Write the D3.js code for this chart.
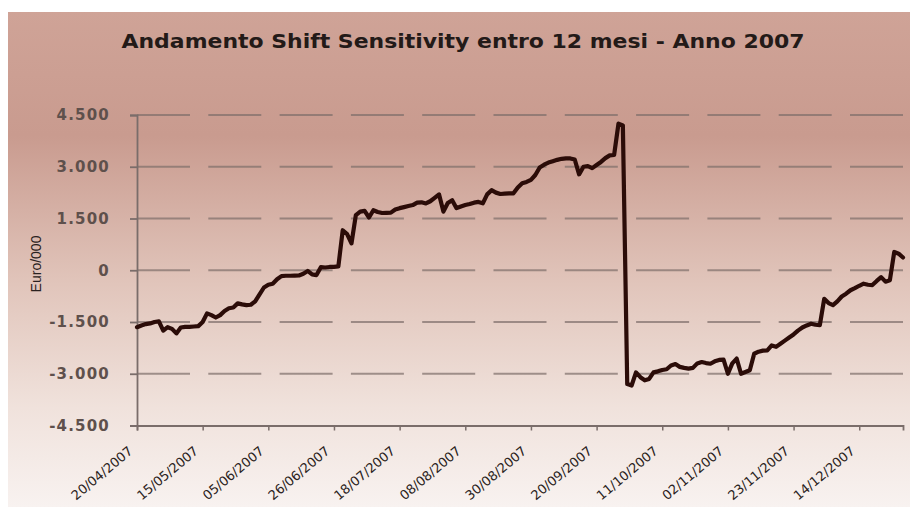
<!DOCTYPE html>
<html>
<head>
<meta charset="utf-8">
<script src="https://cdnjs.cloudflare.com/ajax/libs/d3/7.8.5/d3.min.js"></script>
<style>
  html, body { margin: 0; padding: 0; background: #ffffff; }
  svg { display: block; }
</style>
</head>
<body>
<svg id="chart" width="910" height="507"></svg>
<script>
// ---- Data ----
const title = "Andamento Shift Sensitivity entro 12 mesi - Anno 2007";
const yAxisTitle = "Euro/000";
const dateLabels = ["20/04/2007", "15/05/2007", "05/06/2007", "26/06/2007", "18/07/2007", "08/08/2007",
                    "30/08/2007", "20/09/2007", "11/10/2007", "02/11/2007", "23/11/2007", "14/12/2007"];
const labelEvery = 15; // one date label every 15 observations
const yTickValues = [-4500, -3000, -1500, 0, 1500, 3000, 4500];
const sensitivity = [
  -1650, -1600, -1560, -1540, -1500, -1480, -1750, -1650, -1700, -1830,
  -1660, -1640, -1640, -1630, -1620, -1500, -1250, -1300, -1370, -1300,
  -1180, -1100, -1080, -960, -990, -1010, -1000, -900, -700, -500,
  -420, -390, -260, -170, -160, -160, -155, -150, -100, -20,
  -120, -140, 90, 80, 95, 100, 110, 1160, 1050, 780,
  1600, 1700, 1720, 1530, 1740, 1690, 1660, 1665, 1670, 1760,
  1800, 1830, 1860, 1890, 1960, 1970, 1936, 2000, 2100, 2200,
  1700, 1950, 2030, 1800, 1850, 1890, 1920, 1960, 1980, 1940,
  2200, 2320, 2250, 2210, 2220, 2230, 2230, 2400, 2520, 2560,
  2620, 2760, 2980, 3060, 3120, 3160, 3200, 3230, 3245, 3240,
  3210, 2780, 3000, 3020, 2960, 3050, 3140, 3250, 3330, 3340,
  4250, 4200, -3300, -3340, -2960, -3100, -3190, -3150, -2960, -2930,
  -2890, -2870, -2760, -2720, -2800, -2830, -2850, -2830, -2700, -2660,
  -2690, -2710, -2640, -2600, -2590, -3000, -2700, -2560, -3000, -2950,
  -2900, -2420, -2360, -2330, -2320, -2180, -2220, -2130, -2040, -1950,
  -1860, -1750, -1660, -1600, -1550, -1580, -1590, -830, -950, -1010,
  -900, -760, -680, -580, -520, -450, -390, -420, -430, -310,
  -200, -330, -290, 530, 480, 370
];

// ---- Chart ----
const W = 910, H = 507;
const svg = d3.select("#chart");

const defs = svg.append("defs");
const grad = defs.append("linearGradient").attr("id", "bg").attr("x1", 0).attr("y1", 0).attr("x2", 0).attr("y2", 1);
[["0%", "#cfa397"], ["25%", "#c99b8f"], ["55%", "#e1c5bb"], ["80%", "#f0e2dc"], ["100%", "#f8f2f0"]]
  .forEach(([o, c]) => grad.append("stop").attr("offset", o).attr("stop-color", c));

svg.append("rect").attr("x", 8).attr("y", 12).attr("width", W - 8).attr("height", H - 12).attr("fill", "url(#bg)");

const mLeft = 137, mRight = 903, mTop = 115, mBottom = 425.5;
const x = d3.scaleLinear().domain([0, sensitivity.length - 1]).range([mLeft, mRight]);
const y = d3.scaleLinear().domain([-4500, 4500]).range([mBottom, mTop]);

const itLocale = d3.formatLocale({ decimal: ",", thousands: ".", grouping: [3], currency: ["€", ""], minus: "-" });
const fmt = itLocale.format(",d");

// Gridlines (dashed)
svg.append("g").selectAll("line")
  .data(yTickValues.filter(v => v !== -4500))
  .join("line")
  .attr("x1", mLeft).attr("x2", mRight)
  .attr("y1", d => y(d)).attr("y2", d => y(d))
  .attr("stroke", "#7d6e6a").attr("stroke-opacity", 0.7)
  .attr("stroke-width", 2)
  .attr("stroke-dasharray", "53,18.3");

// Y axis
const yAxis = svg.append("g")
  .attr("transform", `translate(${mLeft},0)`)
  .call(d3.axisLeft(y).tickValues(yTickValues).tickFormat(fmt).tickSize(7).tickPadding(20));
yAxis.select(".domain").attr("stroke", "#7a6d6a").attr("stroke-width", 1.8);
yAxis.selectAll(".tick line").attr("stroke", "#7a6d6a").attr("stroke-width", 1.8);
yAxis.selectAll(".tick text")
  .attr("font-family", "'DejaVu Sans', Verdana, sans-serif")
  .attr("font-size", 15).attr("font-weight", "bold")
  .attr("letter-spacing", 1.2)
  .attr("fill", "#5e504c");

// X axis
const tickIdx = dateLabels.map((d, i) => i * labelEvery);
const xAxis = svg.append("g")
  .attr("transform", `translate(0,${mBottom})`)
  .call(d3.axisBottom(x).tickValues(tickIdx).tickFormat(i => dateLabels[i / labelEvery]).tickSize(5));
xAxis.select(".domain").attr("stroke", "#7a6d6a").attr("stroke-width", 1.8);
xAxis.selectAll(".tick line").attr("stroke", "#7a6d6a").attr("stroke-width", 1.5);
xAxis.selectAll(".tick text")
  .attr("font-family", "'DejaVu Sans', Verdana, sans-serif")
  .attr("font-size", 13).attr("fill", "#2a2220")
  .attr("text-anchor", "end")
  .attr("dy", "0")
  .attr("transform", "translate(-4,27) rotate(-40)")
  .attr("y", 0).attr("x", 0);

// Line
svg.append("path")
  .datum(sensitivity)
  .attr("fill", "none")
  .attr("stroke", "#2b0c08")
  .attr("stroke-width", 4.2)
  .attr("stroke-linejoin", "round")
  .attr("stroke-linecap", "round")
  .attr("d", d3.line().x((d, i) => x(i)).y(d => y(d)));

// Title
svg.append("text")
  .attr("x", 463).attr("y", 48)
  .attr("text-anchor", "middle")
  .attr("font-family", "'Comic Sans MS', 'DejaVu Sans', sans-serif")
  .attr("font-weight", "bold").attr("font-size", 19)
  .attr("fill", "#231a18")
  .attr("textLength", 683).attr("lengthAdjust", "spacingAndGlyphs")
  .text(title);

// Y axis title
svg.append("text")
  .attr("transform", "translate(41,264) rotate(-90)")
  .attr("text-anchor", "middle")
  .attr("font-family", "'Liberation Sans', Arial, sans-serif")
  .attr("font-size", 14).attr("fill", "#2a2220")
  .text(yAxisTitle);
</script>
</body>
</html>
